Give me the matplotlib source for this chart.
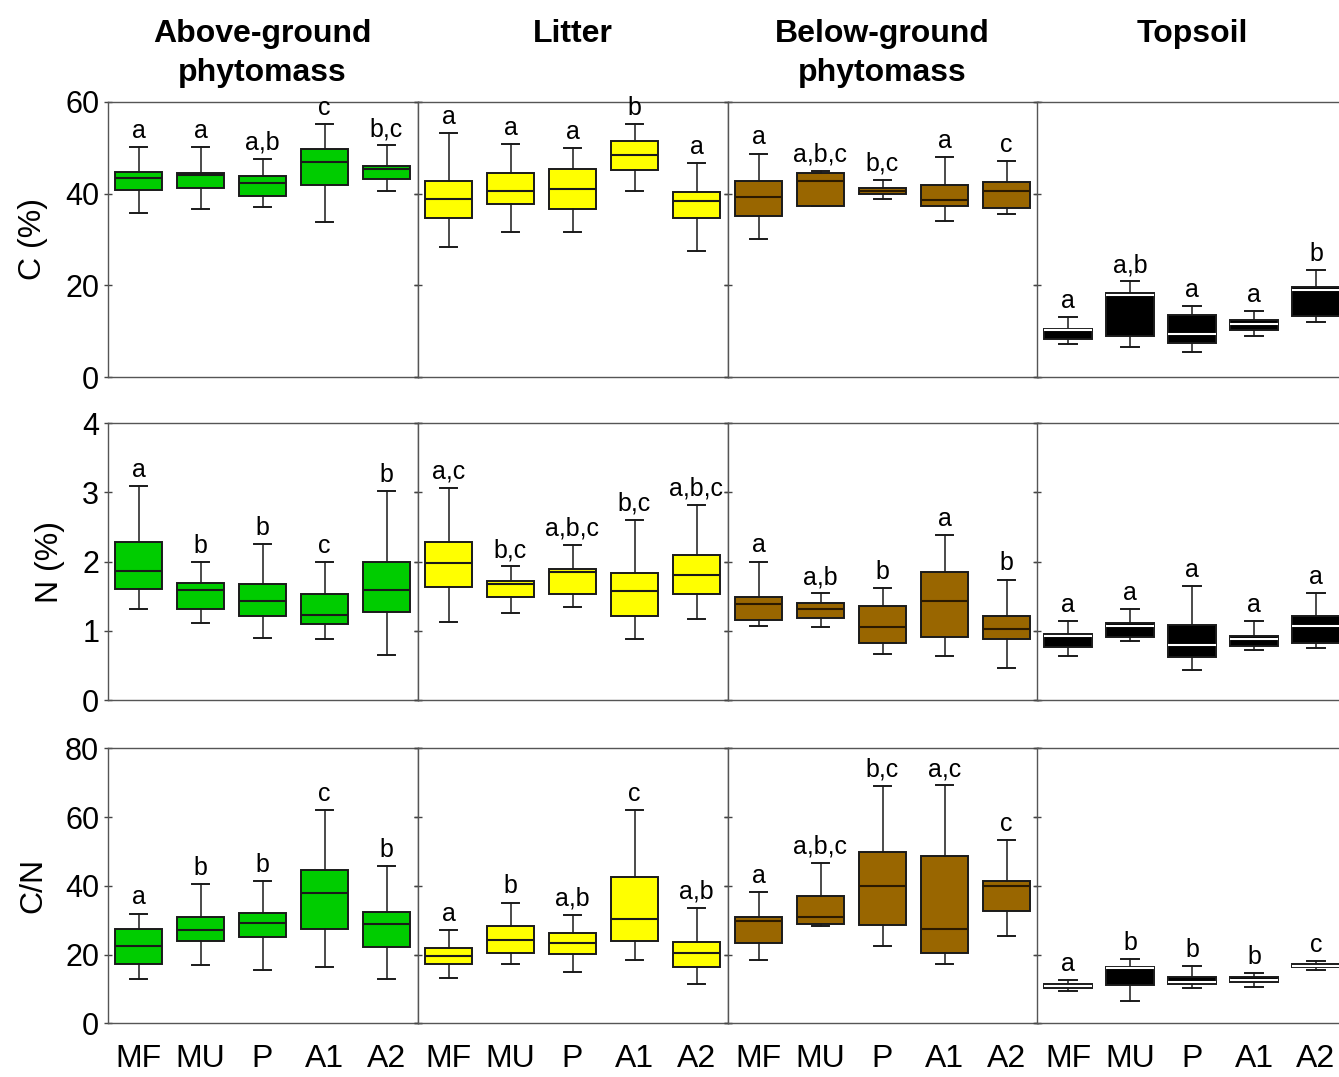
import matplotlib.pyplot as plt

plt.rcParams['font.family'] = ['Liberation Sans', 'DejaVu Sans']

sites = ['MF', 'MU', 'P', 'A1', 'A2']
columns = ['Above-ground\nphytomass', 'Litter', 'Below-ground\nphytomass', 'Topsoil']
box_colors = ['#00cc00', '#ffff00', '#996600', '#000000']
median_colors = ['#1a1a1a', '#1a1a1a', '#2b1a00', '#ffffff']

# each box: [whisker low, q1, median, q3, whisker high]
c_above = [[35.8, 40.7, 43.4, 44.8, 50.1], [36.6, 41.3, 44.0, 44.5, 50.1], [37.1, 39.4, 42.3, 43.8, 47.6],
           [33.9, 41.9, 46.9, 49.7, 55.2], [40.6, 43.1, 45.3, 46.1, 50.5]]
c_litter = [[28.3, 34.6, 38.9, 42.8, 53.1], [31.6, 37.8, 40.6, 44.5, 50.8], [31.6, 36.7, 40.9, 45.4, 49.9],
            [40.6, 45.2, 48.4, 51.5, 55.2], [27.5, 34.6, 38.3, 40.3, 46.7]]
c_below = [[30.2, 35.1, 39.2, 42.7, 48.7], [37.3, 37.3, 42.7, 44.4, 45.0], [38.8, 40.0, 40.6, 41.2, 43.0],
           [34.0, 37.3, 38.6, 41.9, 47.9], [35.6, 36.9, 40.6, 42.6, 47.1]]
c_topsoil = [[7.3, 8.4, 10.2, 10.6, 13.1], [6.7, 9.1, 18.0, 18.3, 20.9], [5.6, 7.4, 9.5, 13.6, 15.5],
             [9.1, 10.2, 11.7, 12.5, 14.4], [12.1, 13.4, 19.1, 19.6, 23.4]]

n_above = [[1.31, 1.60, 1.86, 2.29, 3.09], [1.11, 1.31, 1.59, 1.69, 1.99], [0.90, 1.22, 1.43, 1.68, 2.25],
           [0.88, 1.10, 1.23, 1.53, 1.99], [0.65, 1.27, 1.59, 2.00, 3.02]]
n_litter = [[1.13, 1.63, 1.98, 2.28, 3.07], [1.26, 1.49, 1.67, 1.72, 1.93], [1.34, 1.53, 1.85, 1.90, 2.24],
            [0.88, 1.22, 1.57, 1.83, 2.60], [1.17, 1.53, 1.80, 2.10, 2.82]]
n_below = [[1.07, 1.16, 1.39, 1.49, 2.00], [1.06, 1.19, 1.31, 1.40, 1.54], [0.66, 0.83, 1.06, 1.36, 1.62],
           [0.63, 0.91, 1.43, 1.85, 2.38], [0.46, 0.88, 1.03, 1.22, 1.74]]
n_topsoil = [[0.63, 0.76, 0.92, 0.96, 1.14], [0.86, 0.91, 1.07, 1.12, 1.32], [0.44, 0.62, 0.79, 1.09, 1.65],
             [0.73, 0.78, 0.88, 0.92, 1.14], [0.75, 0.83, 1.07, 1.21, 1.54]]

cn_above = [[12.9, 17.3, 22.5, 27.3, 31.9], [16.9, 24.0, 27.1, 30.8, 40.6], [15.5, 25.2, 29.1, 32.1, 41.4],
            [16.5, 27.5, 38.0, 44.7, 62.0], [13.0, 22.1, 28.9, 32.4, 45.8]]
cn_litter = [[13.2, 17.3, 19.7, 21.8, 27.2], [17.3, 20.5, 24.2, 28.4, 35.1], [14.8, 20.1, 23.3, 26.2, 31.6],
             [18.5, 24.0, 30.3, 42.5, 62.0], [11.3, 16.5, 20.4, 23.7, 33.5]]
cn_below = [[18.3, 23.3, 29.8, 31.0, 38.1], [28.4, 28.8, 31.0, 37.0, 46.7], [22.6, 28.7, 39.9, 49.8, 69.0],
            [17.3, 20.5, 27.3, 48.6, 69.2], [25.5, 32.8, 39.9, 41.5, 53.3]]
cn_topsoil = [[9.3, 10.4, 10.9, 11.4, 12.6], [6.6, 11.2, 16.2, 16.5, 18.6], [10.3, 11.4, 12.1, 13.6, 16.6],
              [10.6, 12.0, 12.6, 13.4, 14.5], [15.6, 16.3, 16.8, 17.3, 18.1]]

# significance letters
c_letters = [['a', 'a', 'a,b', 'c', 'b,c'], ['a', 'a', 'a', 'b', 'a'],
             ['a', 'a,b,c', 'b,c', 'a', 'c'], ['a', 'a,b', 'a', 'a', 'b']]
n_letters = [['a', 'b', 'b', 'c', 'b'], ['a,c', 'b,c', 'a,b,c', 'b,c', 'a,b,c'],
             ['a', 'a,b', 'b', 'a', 'b'], ['a', 'a', 'a', 'a', 'a']]
cn_letters = [['a', 'b', 'b', 'c', 'b'], ['a', 'b', 'a,b', 'c', 'a,b'],
              ['a', 'a,b,c', 'b,c', 'a,c', 'c'], ['a', 'b', 'b', 'b', 'c']]

rows = [
    ('C (%)', [c_above, c_litter, c_below, c_topsoil], c_letters, (0, 60), [0, 20, 40, 60]),
    ('N (%)', [n_above, n_litter, n_below, n_topsoil], n_letters, (0, 4), [0, 1, 2, 3, 4]),
    ('C/N', [cn_above, cn_litter, cn_below, cn_topsoil], cn_letters, (0, 80), [0, 20, 40, 60, 80]),
]

W, H = 1339, 1077
fig = plt.figure(figsize=(W / 100, H / 100), dpi=100)

col_left = [107.5, 417.5, 727.5, 1037.0]
col_w = 310.0
row_top = [101.7, 423.3, 748.3]
row_h = [275.6, 276.7, 275.0]
positions = [1, 2, 3, 4, 5]
edge = '#1a1a1a'

for r, (ylabel, panels, letters, ylim, yticks) in enumerate(rows):
    for c in range(4):
        ax = fig.add_axes([col_left[c] / W, (H - row_top[r] - row_h[r]) / H, col_w / W, row_h[r] / H])
        stats = []
        for lo, q1, med, q3, hi in panels[c]:
            stats.append(dict(whislo=lo, q1=q1, med=med, q3=q3, whishi=hi, fliers=[]))
        ax.bxp(stats, positions=positions, widths=0.77, capwidths=0.29, patch_artist=True,
               showfliers=False,
               boxprops=dict(facecolor=box_colors[c], edgecolor=edge, linewidth=1.4),
               medianprops=dict(color=median_colors[c], linewidth=1.5),
               whiskerprops=dict(color=edge, linewidth=1.1),
               capprops=dict(color=edge, linewidth=1.4))
        for x, box, lab in zip(positions, panels[c], letters[c]):
            ax.annotate(lab, (x, box[4]), xytext=(0, 3), textcoords='offset points',
                        ha='center', va='bottom', fontsize=18, annotation_clip=False)
        ax.set_xlim(0.5, 5.5)
        ax.set_ylim(*ylim)
        ax.set_yticks(yticks)
        ax.tick_params(axis='y', which='both', direction='inout', length=6, width=1,
                       color='#444444', left=True, right=True, labelsize=22, pad=3)
        ax.tick_params(axis='x', length=0, labelsize=23, pad=15)
        for s in ax.spines.values():
            s.set_color('#555555')
            s.set_linewidth(1.0)
        if c == 0:
            ax.set_ylabel(ylabel, fontsize=23, labelpad=12)
        else:
            ax.tick_params(axis='y', labelleft=False)
        if r == 2:
            ax.set_xticks(positions, sites)
        else:
            ax.set_xticks(positions, [])

# column headings, top aligned
for c, name in enumerate(columns):
    xc = (col_left[c] + col_w / 2) / W
    fig.text(xc, 1 - 19 / H, name, ha='center', va='top', fontsize=23, fontweight='bold',
             linespacing=1.38)

fig.savefig('out.png', dpi=100)
